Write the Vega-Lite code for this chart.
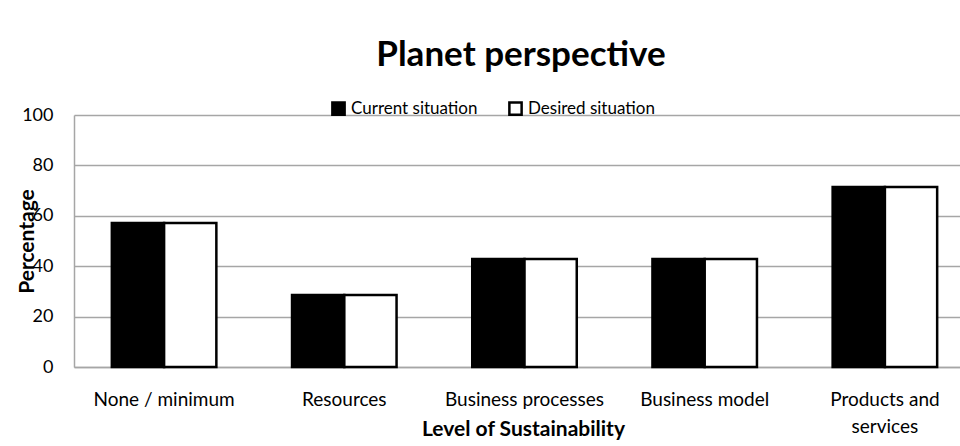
{
  "$schema": "https://vega.github.io/schema/vega-lite/v6.json",
  "width": 886,
  "height": 252,
  "autosize": {"type": "none"},
  "padding": {"left": 74, "top": 115, "right": 0, "bottom": 79},
  "background": "white",
  "title": {"text": "Planet perspective", "fontSize": 35, "fontWeight": "bold", "font": "Lato", "color": "black", "anchor": "middle", "frame": "group", "offset": 27, "dx": 4},
  "data": {"values": [
    {"level": "None / minimum", "situation": "Current situation", "percentage": 57.1},
    {"level": "None / minimum", "situation": "Desired situation", "percentage": 57.1},
    {"level": "Resources", "situation": "Current situation", "percentage": 28.6},
    {"level": "Resources", "situation": "Desired situation", "percentage": 28.6},
    {"level": "Business processes", "situation": "Current situation", "percentage": 42.9},
    {"level": "Business processes", "situation": "Desired situation", "percentage": 42.9},
    {"level": "Business model", "situation": "Current situation", "percentage": 42.9},
    {"level": "Business model", "situation": "Desired situation", "percentage": 42.9},
    {"level": "Products and services", "situation": "Current situation", "percentage": 71.4},
    {"level": "Products and services", "situation": "Desired situation", "percentage": 71.4}
  ]},
  "mark": {"type": "bar", "strokeWidth": 2.5},
  "encoding": {
    "x": {
      "field": "level", "type": "nominal",
      "sort": ["None / minimum", "Resources", "Business processes", "Business model", "Products and services"],
      "scale": {"range": [0, 901], "paddingInner": 0.42, "paddingOuter": 0.21},
      "axis": {
        "title": "Level of Sustainability", "titleFont": "Lato", "titleFontSize": 21, "titleFontWeight": "bold", "titleColor": "black",
        "titleX": 449, "titleY": 68, "titleBaseline": "alphabetic",
        "labelFont": "Lato", "labelFontSize": 19, "labelColor": "black", "labelAngle": 0, "labelPadding": 23, "labelLineHeight": 27,
        "labelExpr": "datum.label == 'Products and services' ? ['Products and', 'services'] : datum.label",
        "ticks": false, "domainColor": "#a6a6a6", "domainWidth": 1.5, "grid": false
      }
    },
    "xOffset": {"field": "situation", "type": "nominal", "sort": ["Current situation", "Desired situation"], "scale": {"paddingInner": 0, "paddingOuter": 0}},
    "y": {
      "field": "percentage", "type": "quantitative",
      "scale": {"domain": [0, 100]},
      "axis": {
        "values": [0, 20, 40, 60, 80, 100], "title": "Percentage",
        "titleFont": "Lato", "titleFontSize": 21, "titleFontWeight": "bold", "titleColor": "black",
        "titleX": -47, "titleY": 126, "titleAngle": -90, "titleBaseline": "middle", "titleAlign": "center",
        "labelFont": "Lato", "labelFontSize": 18, "labelColor": "black", "labelPadding": 21,
        "ticks": false, "grid": true, "gridColor": "#a6a6a6", "gridWidth": 1.5, "domainColor": "#a6a6a6", "domainWidth": 1.5
      }
    },
    "fill": {
      "field": "situation", "type": "nominal",
      "scale": {"domain": ["Current situation", "Desired situation"], "range": ["black", "white"]},
      "legend": {
        "title": null, "orient": "none", "legendX": 256, "legendY": -15, "direction": "horizontal",
        "symbolType": "square", "symbolSize": 150, "symbolStrokeWidth": 2.5, "symbolStrokeColor": "black",
        "labelFont": "Lato", "labelFontSize": 17, "labelColor": "black", "labelOffset": 4, "columnPadding": 26
      }
    },
    "stroke": {
      "field": "situation", "type": "nominal",
      "scale": {"domain": ["Current situation", "Desired situation"], "range": ["black", "black"]},
      "legend": null
    }
  },
  "config": {"view": {"stroke": null}}
}
